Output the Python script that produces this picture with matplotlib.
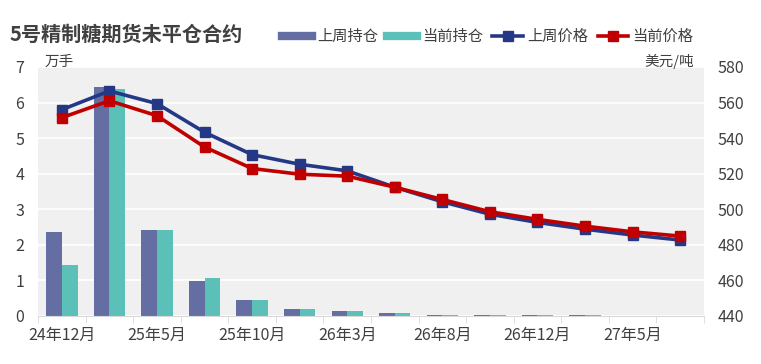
import matplotlib.pyplot as plt
from matplotlib.lines import Line2D
import numpy as np

plt.rcParams['font.family'] = ['Noto Sans CJK SC', 'DejaVu Sans']

months = ['24年12月', '25年3月', '25年5月', '25年8月', '25年10月', '25年12月', '26年3月',
          '26年5月', '26年8月', '26年10月', '26年12月', '27年3月', '27年5月', '27年8月']
oi_last = [2.36, 6.43, 2.41, 0.99, 0.45, 0.20, 0.14, 0.08, 0.03, 0.03, 0.02, 0.02, 0.0, 0.0]
oi_now = [1.43, 6.37, 2.41, 1.07, 0.45, 0.20, 0.14, 0.08, 0.03, 0.02, 0.02, 0.02, 0.0, 0.0]
px_last = [556.0, 566.5, 559.4, 543.3, 530.7, 525.3, 521.6, 512.4, 504.2, 497.2, 492.6, 488.8, 485.5, 482.7]
px_now = [551.5, 561.0, 552.6, 535.0, 522.9, 519.7, 518.6, 512.4, 505.5, 498.6, 494.3, 490.5, 487.3, 484.9]

c_bar1 = '#646ea3'
c_bar2 = '#5bc0b8'
c_line1 = '#253886'
c_line2 = '#c00000'
txt = '#404040'

fig = plt.figure(figsize=(7.61, 3.64), dpi=100)
ax = fig.add_axes([0.05, 0.132, 0.875, 0.684])
ax.set_facecolor('#f0f0f0')
x = np.arange(len(months))
w = 0.33
ax.bar(x - w / 2, oi_last, w, color=c_bar1, zorder=2)
ax.bar(x + w / 2, oi_now, w, color=c_bar2, zorder=2)
ax.set_ylim(0, 7)
ax.set_xlim(-0.5, len(months) - 0.5)
ax.set_yticks(range(8))
ax.grid(axis='y', color='white', lw=1.2, zorder=1)
ax.set_axisbelow(True)
ax.set_xticks(x[::2])
ax.set_xticklabels(months[::2])
ax.set_xticks(np.arange(-0.5, len(months)), minor=True)
ax.tick_params(axis='x', which='major', length=0, pad=8, labelsize=11.5, colors=txt)
ax.tick_params(axis='x', which='minor', length=5, color='#d9d9d9')
ax.tick_params(axis='y', length=0, labelsize=11.5, colors=txt, pad=10)
for s in ['top', 'left', 'right']:
    ax.spines[s].set_visible(False)
ax.spines['bottom'].set_color('#d9d9d9')

ax2 = ax.twinx()
ax2.plot(x, px_last, '-s', color=c_line1, lw=2.6, ms=7, zorder=3)
ax2.plot(x, px_now, '-s', color=c_line2, lw=2.6, ms=7, zorder=4)
ax2.set_ylim(440, 580)
ax2.set_yticks(range(440, 581, 20))
ax2.tick_params(axis='y', length=0, labelsize=11.5, colors=txt, pad=10)
for s in ['top', 'left', 'right', 'bottom']:
    ax2.spines[s].set_visible(False)

fig.text(0.012, 0.905, '5号精制糖期货未平仓合约', fontsize=14.5, fontweight='bold', color=txt, va='center')
fig.text(0.058, 0.83, '万手', fontsize=10.5, color=txt, va='center')
fig.text(0.912, 0.83, '美元/吨', fontsize=10.5, color=txt, va='center', ha='right')

handles = [Line2D([], [], color=c_bar1, lw=6),
           Line2D([], [], color=c_bar2, lw=6),
           Line2D([], [], color=c_line1, lw=2.6, marker='s', ms=7),
           Line2D([], [], color=c_line2, lw=2.6, marker='s', ms=7)]
fig.legend(handles, ['上周持仓', '当前持仓', '上周价格', '当前价格'], loc='center left',
           bbox_to_anchor=(0.352, 0.9), ncol=4, frameon=False, fontsize=11,
           handlelength=2.0, handletextpad=0.3, columnspacing=0.6, labelcolor=txt)

fig.savefig('out.png', dpi=100)
